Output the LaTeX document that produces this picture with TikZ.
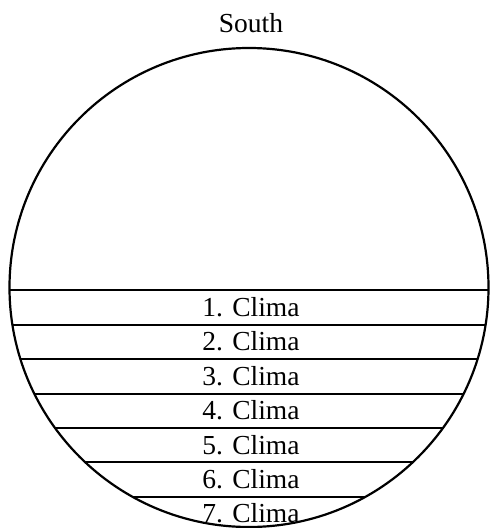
\documentclass[tikz,border=0pt]{standalone}
\usepackage{fontspec}
\setmainfont{Liberation Serif}
\begin{document}
\begin{tikzpicture}[x=1pt,y=-1pt,
  lab/.style={font=\fontsize{27.5}{32}\selectfont, inner sep=0pt, anchor=base},
  outline/.style={line width=2.2pt},
  band/.style={line width=2pt}]
\useasboundingbox (0,0) rectangle (490,528);
\coordinate (c) at (249,287.5);
\node[lab] (south) at (251,32) {South};
\begin{scope}
  \clip (c) circle (239.5);
  \foreach \y in {290,325,359,394,428,462,497}
    \draw[band] (0,\y) -- (490,\y);
\end{scope}
\draw[outline] (c) circle (239.5);
\foreach \i/\y in {1/316,2/350,3/385,4/419,5/454,6/488,7/522}
  \node[lab] (cl\i) at (251,\y) {\i. Clima};
\end{tikzpicture}
\end{document}
